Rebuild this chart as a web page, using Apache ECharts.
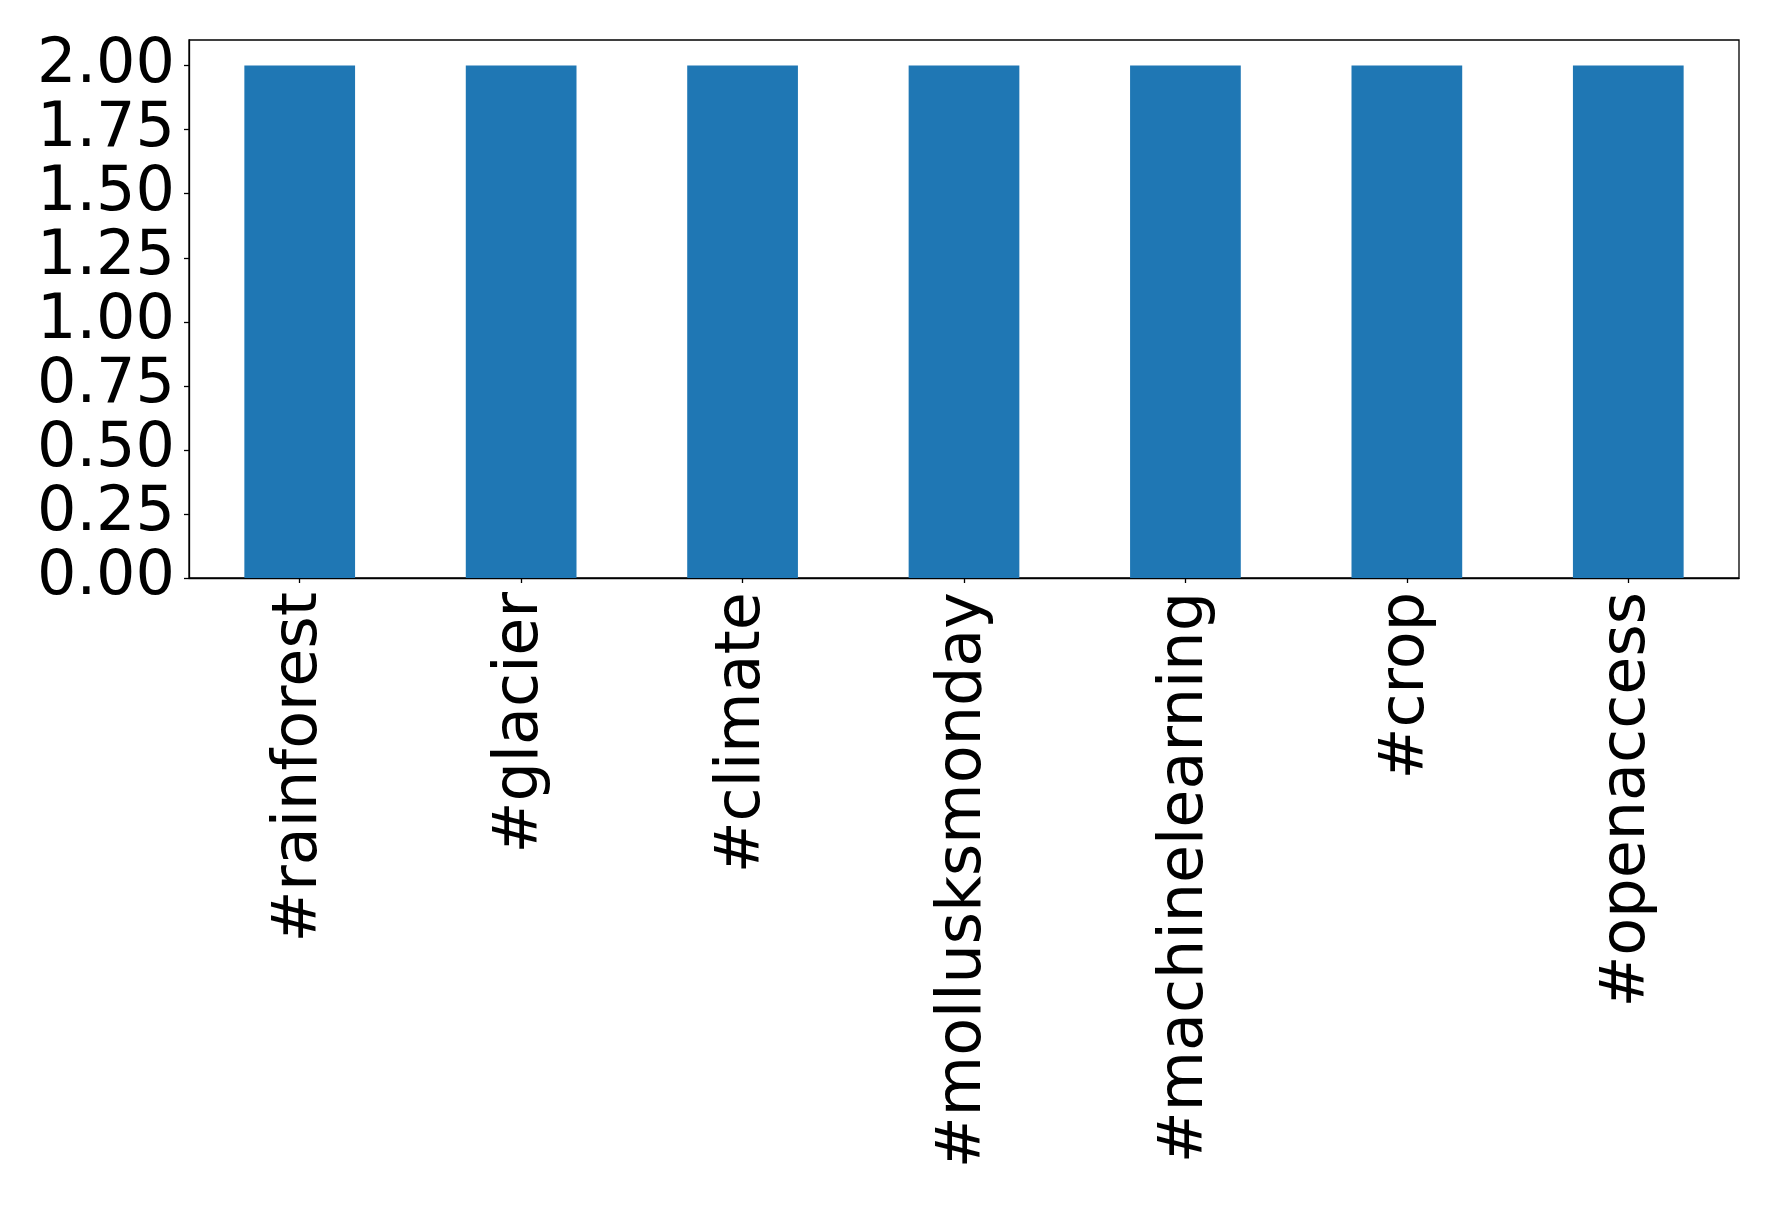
<!DOCTYPE html>
<html>
<head>
<meta charset="utf-8">
<script src="https://cdn.jsdelivr.net/npm/echarts@6/dist/echarts.min.js"></script>
<style>
html,body{margin:0;padding:0;background:#fff;}
#chart{width:1778px;height:1208px;}
</style>
</head>
<body>
<div id="chart"></div>
<script>
const categories = ['#rainforest', '#glacier', '#climate', '#mollusksmonday', '#machinelearning', '#crop', '#openaccess'];
const values = [2, 2, 2, 2, 2, 2, 2];
const yTicks = [0, 0.25, 0.5, 0.75, 1.0, 1.25, 1.5, 1.75, 2.0];

const chart = echarts.init(document.getElementById('chart'));
const font = 'DejaVu Sans';
chart.setOption({
  animation: false,
  backgroundColor: '#fff',
  grid: {
    left: 189, right: 39, top: 40, bottom: 630,
    containLabel: false,
    outerBoundsMode: 'none',
    show: true, borderColor: '#000', borderWidth: 1.3, backgroundColor: 'transparent'
  },
  xAxis: {
    type: 'category',
    data: categories,
    boundaryGap: true,
    axisLine: { show: true, lineStyle: { color: '#000', width: 1.3 } },
    axisTick: { show: true, alignWithLabel: true, length: 5, lineStyle: { color: '#000', width: 1.3 } },
    axisLabel: { rotate: 90, margin: 14, fontSize: 62, fontFamily: font, color: '#000', interval: 0 },
    splitLine: { show: false }
  },
  yAxis: {
    type: 'value',
    min: 0, max: 2.1,
    axisLine: { show: true, lineStyle: { color: '#000', width: 1.3 } },
    axisTick: { show: true, length: 5, customValues: yTicks, lineStyle: { color: '#000', width: 1.3 } },
    axisLabel: { margin: 14, fontSize: 62, fontFamily: font, color: '#000', customValues: yTicks,
      formatter: v => v.toFixed(2) },
    splitLine: { show: false }
  },
  series: [{
    type: 'bar',
    data: values,
    barWidth: '50%',
    itemStyle: { color: '#1f77b4' }
  }]
});
</script>
</body>
</html>
